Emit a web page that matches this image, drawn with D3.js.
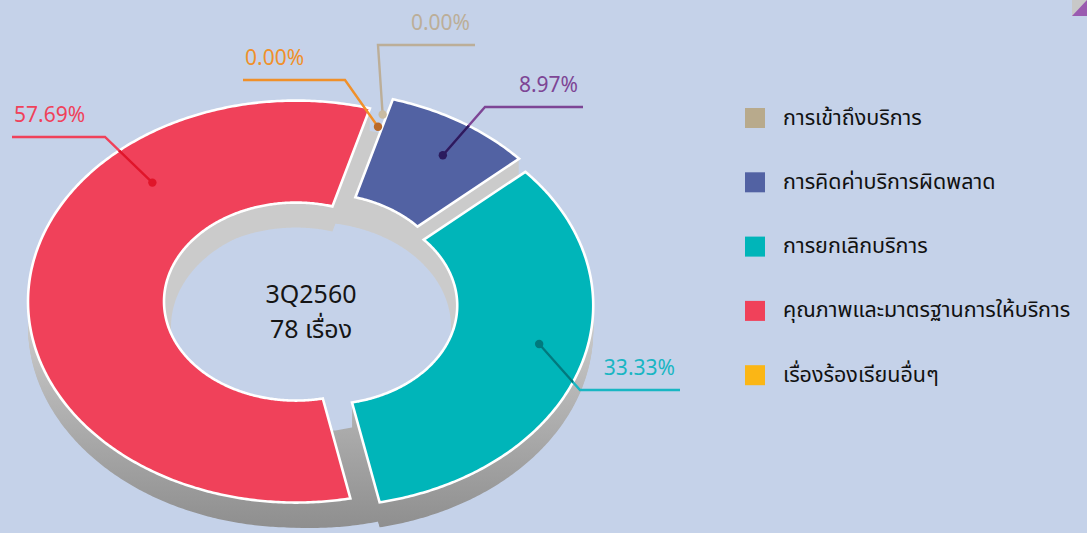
<!DOCTYPE html>
<html><head><meta charset="utf-8">
<script src="https://cdn.jsdelivr.net/npm/d3@7"></script>
<style>
html,body{margin:0;padding:0;background:#c5d2e9;}
svg{display:block}
</style></head><body>
<svg id="chart" width="1087" height="533"></svg>
<script>
// ---- data ----
const categories = ["การเข้าถึงบริการ","การคิดค่าบริการผิดพลาด","การยกเลิกบริการ","คุณภาพและมาตรฐานการให้บริการ","เรื่องร้องเรียนอื่นๆ"];
const values = [0.00, 8.97, 33.33, 57.69, 0.00];
const sliceColors = ["#b8aa8c","#5262a3","#00b5b9","#f0415a","#fbb615"];
const labelColors = ["#bcae98","#7d4595","#19b6c3","#f0415a","#f0902a"];
const dotColors = ["#c9bba2","#2b1b5e","#007a7e","#e0152a","#b9692a"];
const centerLines = ["3Q2560","78 เรื่อง"];

// ---- layout ----
const W=1087, H=533, cx=311, cy=302, k=0.75, ro=268, ri=132, riFloor=140, explode=15, depth=25;
const startDeg = 16;
const labelLayout = [
  {frac:0.5,  r:245, elbow:[67,-257],  run:97},
  {frac:0.56, r:221, elbow:[174,-195], run:98},
  {frac:0.46, r:220, elbow:[269,88],   run:100},
  {frac:0.72, r:214, elbow:[-206,-165],run:-93},
  {frac:0.5,  r:228, elbow:[34,-222],  run:-102}
];
const fontLatin = "'Noto Sans', 'Open Sans', sans-serif";
const fontThai = "'Noto Sans Thai', 'Tahoma', 'Noto Sans', 'DejaVu Sans', sans-serif";

const svg = d3.select("#chart");
svg.append("rect").attr("width",W).attr("height",H).attr("fill","#c5d2e9");
const defs = svg.append("defs");
const grad = defs.append("linearGradient").attr("id","wall").attr("gradientUnits","userSpaceOnUse")
  .attr("x1",0).attr("y1",320).attr("x2",0).attr("y2",533);
grad.append("stop").attr("offset",0).attr("stop-color","#cbcbcb");
grad.append("stop").attr("offset",1).attr("stop-color","#8d8d8d");

const a0 = startDeg*Math.PI/180;
const arcs = d3.pie().sort(null).value(d=>d).startAngle(a0).endAngle(a0+2*Math.PI)(values);

function pt(a, r, off){ return [cx + off[0] + r*Math.sin(a), cy + off[1] - r*k*Math.cos(a)]; }
function ringPath(s, e, rIn, rOut, off){
  const n = Math.max(2, Math.ceil((e-s)/0.01));
  const pts = [];
  for(let i=0;i<=n;i++) pts.push(pt(s+(e-s)*i/n, rOut, off));
  for(let i=n;i>=0;i--) pts.push(pt(s+(e-s)*i/n, rIn, off));
  return d3.line()(pts)+"Z";
}
function offsetOf(d){
  const mid=(d.startAngle+d.endAngle)/2;
  return [explode*Math.sin(mid), -explode*k*Math.cos(mid)];
}

// floor (gray, at depth)
const gFloor = svg.append("g");
gFloor.append("path")
  .attr("d", ringPath(a0, a0+2*Math.PI-1e-6, riFloor, ro, [0,depth]))
  .attr("fill","url(#wall)");

// walls
const gWalls = svg.append("g");
arcs.forEach(d=>{
  if(d.endAngle-d.startAngle<1e-6) return;
  const off = offsetOf(d);
  for(let t=depth; t>=1; t-=1){
    gWalls.append("path").attr("d", ringPath(d.startAngle,d.endAngle,ri,ro,[off[0],off[1]+t]))
      .attr("fill","url(#wall)");
  }
});

// tops
const gTop = svg.append("g");
arcs.forEach((d,i)=>{
  if(d.endAngle-d.startAngle<1e-6) return;
  const off = offsetOf(d);
  const p = ringPath(d.startAngle,d.endAngle,ri,ro,off);
  gTop.append("path").attr("d",p).attr("fill",sliceColors[i])
    .attr("stroke","#ffffff").attr("stroke-width",2.6).attr("stroke-linejoin","miter");
  defs.append("clipPath").attr("id","clip"+i).append("path").attr("d",p);
});

// labels
const gLab = svg.append("g");
arcs.forEach((d,i)=>{
  const L = labelLayout[i];
  const off = offsetOf(d);
  const a = d.startAngle + (d.endAngle-d.startAngle)*L.frac;
  const dot = pt(a, L.r, off);
  const elbow = [cx+L.elbow[0], cy+L.elbow[1]];
  const end = [elbow[0]+L.run, elbow[1]];
  const lp = d3.line()([dot, elbow, end]);
  gLab.append("path").attr("d",lp).attr("fill","none").attr("stroke",labelColors[i]).attr("stroke-width",2.4);
  if(d.endAngle-d.startAngle>1e-6){
    gLab.append("path").attr("d",lp).attr("fill","none").attr("stroke",dotColors[i]).attr("stroke-width",2.4)
      .attr("clip-path","url(#clip"+i+")");
  }
  gLab.append("circle").attr("cx",dot[0]).attr("cy",dot[1]).attr("r",4.2).attr("fill",dotColors[i]);
  const txt = d3.format(".2f")(values[i])+"%";
  gLab.append("text")
    .attr("x", L.run>0 ? end[0]-5 : end[0]+2)
    .attr("y", elbow[1]-15)
    .attr("text-anchor", L.run>0 ? "end":"start")
    .attr("font-family",fontLatin).attr("font-size",21)
    .attr("fill",labelColors[i]).text(txt);
});

// center text
const gC = svg.append("g");
centerLines.forEach((s,i)=>{
  gC.append("text").attr("x",cx).attr("y",303+i*35).attr("text-anchor","middle")
    .attr("font-family",fontThai).attr("font-size",25).attr("fill","#151515").text(s);
});

// legend
const gLeg = svg.append("g");
categories.forEach((c,i)=>{
  const y = 118 + i*64.3;
  gLeg.append("rect").attr("x",745).attr("y",y-10).attr("width",20).attr("height",20).attr("fill",sliceColors[i]);
  gLeg.append("text").attr("x",783).attr("y",y).attr("dominant-baseline","central")
    .attr("font-family",fontThai).attr("font-size",21.5).attr("fill","#111").text(c);
});

// corner decoration
svg.append("rect").attr("x",1072).attr("y",0).attr("width",15).attr("height",16).attr("fill","#c8c8c8");
svg.append("path").attr("d","M1072,16L1087,16L1087,0Z").attr("fill","#9a5bb0");
</script>
</body></html>
